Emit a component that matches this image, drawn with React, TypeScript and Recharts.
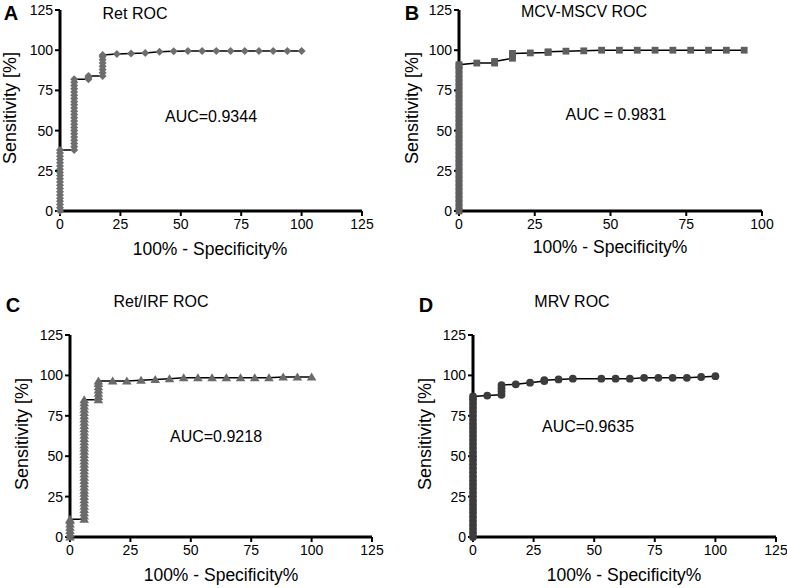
import React from "react";
import { LineChart, Line, XAxis, YAxis } from "recharts";

const FONT = '"Liberation Sans", Arial, Helvetica, sans-serif';

// ---------- data (100% - specificity, sensitivity) ----------
const retPoints: [number, number][] = [
  [0, 0], [0, 2], [0, 4], [0, 6], [0, 8], [0, 10], [0, 12], [0, 14], [0, 16], [0, 18],
  [0, 20], [0, 22], [0, 24], [0, 26], [0, 28], [0, 30], [0, 32], [0, 34], [0, 36], [0, 38],
  [5.88, 38], [5.88, 40], [5.88, 42], [5.88, 44], [5.88, 46], [5.88, 48], [5.88, 50], [5.88, 52],
  [5.88, 54], [5.88, 56], [5.88, 58], [5.88, 60], [5.88, 62], [5.88, 64], [5.88, 66], [5.88, 68],
  [5.88, 70], [5.88, 72], [5.88, 74], [5.88, 76], [5.88, 78], [5.88, 80], [5.88, 82],
  [11.76, 82], [11.76, 83], [11.76, 84],
  [17.65, 84], [17.65, 86], [17.65, 88], [17.65, 90], [17.65, 92], [17.65, 94], [17.65, 96], [17.65, 97],
  [23.53, 97.6], [29.41, 98], [35.29, 98.3], [41.18, 99], [47.06, 99.3], [52.94, 99.5],
  [58.82, 99.5], [64.71, 99.5], [70.59, 99.5], [76.47, 99.5], [82.35, 99.5], [88.24, 99.5],
  [94.12, 99.5], [100, 99.5],
];

const mcvPoints: [number, number][] = [
  [0, 0], [0, 2.5], [0, 5], [0, 7.5], [0, 10], [0, 12.5], [0, 15], [0, 17.5], [0, 20], [0, 22.5],
  [0, 25], [0, 27.5], [0, 30], [0, 32.5], [0, 35], [0, 37.5], [0, 40], [0, 42.5], [0, 45], [0, 47.5],
  [0, 50], [0, 52.5], [0, 55], [0, 57.5], [0, 60], [0, 62.5], [0, 65], [0, 67.5], [0, 70], [0, 72.5],
  [0, 75], [0, 77.5], [0, 80], [0, 82.5], [0, 85], [0, 87.5], [0, 90], [0, 91],
  [5.88, 92], [11.76, 92], [11.76, 93],
  [17.65, 95], [17.65, 96.5], [17.65, 98],
  [23.53, 98.3], [29.41, 98.6], [29.41, 99], [35.29, 99.4], [41.18, 99.6],
  [47.06, 100], [52.94, 100], [58.82, 100], [64.71, 100], [70.59, 100], [76.47, 100],
  [82.35, 100], [88.24, 100], [94.12, 100],
];

const irfPoints: [number, number][] = [
  [0, 0], [0, 2], [0, 4], [0, 6], [0, 8], [0, 10], [0, 11],
  [5.88, 11], [5.88, 13], [5.88, 15], [5.88, 17], [5.88, 19], [5.88, 21], [5.88, 23], [5.88, 25],
  [5.88, 27], [5.88, 29], [5.88, 31], [5.88, 33], [5.88, 35], [5.88, 37], [5.88, 39], [5.88, 41],
  [5.88, 43], [5.88, 45], [5.88, 47], [5.88, 49], [5.88, 51], [5.88, 53], [5.88, 55], [5.88, 57],
  [5.88, 59], [5.88, 61], [5.88, 63], [5.88, 65], [5.88, 67], [5.88, 69], [5.88, 71], [5.88, 73],
  [5.88, 75], [5.88, 77], [5.88, 79], [5.88, 81], [5.88, 83], [5.88, 85],
  [11.76, 85], [11.76, 87], [11.76, 89], [11.76, 91], [11.76, 93], [11.76, 95], [11.76, 96.5],
  [17.65, 96.5], [23.53, 96.5], [29.41, 97], [35.29, 97.5], [41.18, 98], [47.06, 98.5],
  [52.94, 98.5], [58.82, 98.5], [64.71, 98.5], [70.59, 98.5], [76.47, 98.5], [82.35, 98.5],
  [88.24, 99], [94.12, 99], [100, 99],
];

const mrvPoints: [number, number][] = [
  [0, 0], [0, 2.5], [0, 5], [0, 7.5], [0, 10], [0, 12.5], [0, 15], [0, 17.5], [0, 20], [0, 22.5],
  [0, 25], [0, 27.5], [0, 30], [0, 32.5], [0, 35], [0, 37.5], [0, 40], [0, 42.5], [0, 45], [0, 47.5],
  [0, 50], [0, 52.5], [0, 55], [0, 57.5], [0, 60], [0, 62.5], [0, 65], [0, 67.5], [0, 70], [0, 72.5],
  [0, 75], [0, 77.5], [0, 80], [0, 82.5], [0, 85], [0, 87],
  [5.88, 87.5], [11.76, 88], [11.76, 90], [11.76, 92], [11.76, 94],
  [17.65, 94.5], [23.53, 95.5], [29.41, 96.5], [29.41, 97], [35.29, 97.5], [41.18, 98],
  [52.94, 98], [58.82, 98], [64.71, 98], [70.59, 98.5], [76.47, 98.5], [82.35, 98.5],
  [88.24, 98.5], [94.12, 99], [100, 99.5],
];

const yTicks = [0, 25, 50, 75, 100, 125];
const xTicks125 = [0, 25, 50, 75, 100, 125];
const xTicks100 = [0, 25, 50, 75, 100];

const toRows = (pts: [number, number][]) => pts.map(([x, y]) => ({ x, y }));

// ---------- marker shapes ----------
type Shape = "diamond" | "square" | "triangle" | "circle";

const makeDot = (shape: Shape, color: string) => (props: any) => {
  const { cx, cy, index } = props;
  if (cx == null || cy == null) return <g key={index} />;
  if (shape === "diamond") {
    const h = 4;
    return (
      <polygon key={index} points={`${cx},${cy - h} ${cx + h},${cy} ${cx},${cy + h} ${cx - h},${cy}`} fill={color} />
    );
  }
  if (shape === "square") {
    const h = 3.4;
    return <rect key={index} x={cx - h} y={cy - h} width={2 * h} height={2 * h} fill={color} />;
  }
  if (shape === "triangle") {
    return (
      <polygon key={index} points={`${cx},${cy - 4.5} ${cx + 4.8},${cy + 3.5} ${cx - 4.8},${cy + 3.5}`} fill={color} />
    );
  }
  return <circle key={index} cx={cx} cy={cy} r={3.9} fill={color} />;
};

// ---------- panel ----------
type PanelProps = {
  left: number;
  top: number;
  width: number;
  height: number;
  margin: { top: number; right: number; bottom: number; left: number };
  points: [number, number][];
  xMax: number;
  xTicks: number[];
  shape: Shape;
  color: string;
};

const tickStyle = { fill: "#000", fontSize: 14, fontFamily: FONT };

function Panel(p: PanelProps) {
  return (
    <div style={{ position: "absolute", left: p.left, top: p.top, width: p.width, height: p.height }}>
      <LineChart width={p.width} height={p.height} data={toRows(p.points)} margin={p.margin}>
        <XAxis
          type="number"
          dataKey="x"
          domain={[0, p.xMax]}
          ticks={p.xTicks}
          interval={0}
          height={30}
          axisLine={{ stroke: "#000", strokeWidth: 3 }}
          tickLine={{ stroke: "#000", strokeWidth: 2 }}
          tickSize={5}
          tickMargin={3}
          tick={tickStyle}
        />
        <YAxis
          type="number"
          dataKey="y"
          domain={[0, 125]}
          ticks={yTicks}
          interval={0}
          width={40}
          axisLine={{ stroke: "#000", strokeWidth: 3 }}
          tickLine={{ stroke: "#000", strokeWidth: 2 }}
          tickSize={5}
          tickMargin={2}
          tick={tickStyle}
        />
        <Line
          type="linear"
          dataKey="y"
          stroke="#000"
          strokeWidth={1.5}
          dot={makeDot(p.shape, p.color)}
          activeDot={false}
          isAnimationActive={false}
        />
      </LineChart>
    </div>
  );
}

// ---------- text overlays ----------
function T({ x, y, children, size = 16, bold = false, rotate = false }: any) {
  return (
    <div
      style={{
        position: "absolute",
        left: x,
        top: y,
        transform: `translate(-50%, -50%)${rotate ? " rotate(-90deg)" : ""}`,
        fontFamily: FONT,
        fontSize: size,
        fontWeight: bold ? 700 : 400,
        whiteSpace: "nowrap",
        color: "#000",
        lineHeight: 1,
      }}
    >
      {children}
    </div>
  );
}

export default function App() {
  return (
    <div style={{ position: "absolute", left: 0, top: 0, width: 787, height: 588, background: "#fff", overflow: "hidden" }}>
      <Panel
        left={0} top={0} width={390} height={290}
        margin={{ top: 10, right: 28, bottom: 49, left: 20 }}
        points={retPoints} xMax={125} xTicks={xTicks125} shape="diamond" color="#6e6e6e"
      />
      <Panel
        left={390} top={0} width={397} height={290}
        margin={{ top: 10, right: 25, bottom: 49, left: 29 }}
        points={mcvPoints} xMax={100} xTicks={xTicks100} shape="square" color="#5e5e5e"
      />
      <Panel
        left={0} top={290} width={390} height={298}
        margin={{ top: 45, right: 18, bottom: 21, left: 30 }}
        points={irfPoints} xMax={125} xTicks={xTicks125} shape="triangle" color="#6a6a6a"
      />
      <Panel
        left={390} top={290} width={397} height={298}
        margin={{ top: 45, right: 11, bottom: 21, left: 43 }}
        points={mrvPoints} xMax={125} xTicks={xTicks125} shape="circle" color="#3c3c3c"
      />

      {/* Panel A */}
      <T x={11} y={13} size={20} bold>A</T>
      <T x={135} y={14}>Ret ROC</T>
      <T x={211} y={117}>AUC=0.9344</T>
      <T x={10} y={108} size={18} rotate>Sensitivity [%]</T>
      <T x={210} y={250} size={17.5}>100% - Specificity%</T>

      {/* Panel B */}
      <T x={412} y={13} size={20} bold>B</T>
      <T x={584} y={12}>MCV-MSCV ROC</T>
      <T x={616} y={115}>AUC = 0.9831</T>
      <T x={412} y={108} size={18} rotate>Sensitivity [%]</T>
      <T x={610} y={248} size={17.5}>100% - Specificity%</T>

      {/* Panel C */}
      <T x={13} y={305} size={20} bold>C</T>
      <T x={161} y={302}>Ret/IRF ROC</T>
      <T x={216} y={437}>AUC=0.9218</T>
      <T x={22} y={434} size={18} rotate>Sensitivity [%]</T>
      <T x={221} y={576} size={17.5}>100% - Specificity%</T>

      {/* Panel D */}
      <T x={426} y={305} size={20} bold>D</T>
      <T x={572} y={302}>MRV ROC</T>
      <T x={588} y={427}>AUC=0.9635</T>
      <T x={425} y={434} size={18} rotate>Sensitivity [%]</T>
      <T x={624} y={576} size={17.5}>100% - Specificity%</T>
    </div>
  );
}
